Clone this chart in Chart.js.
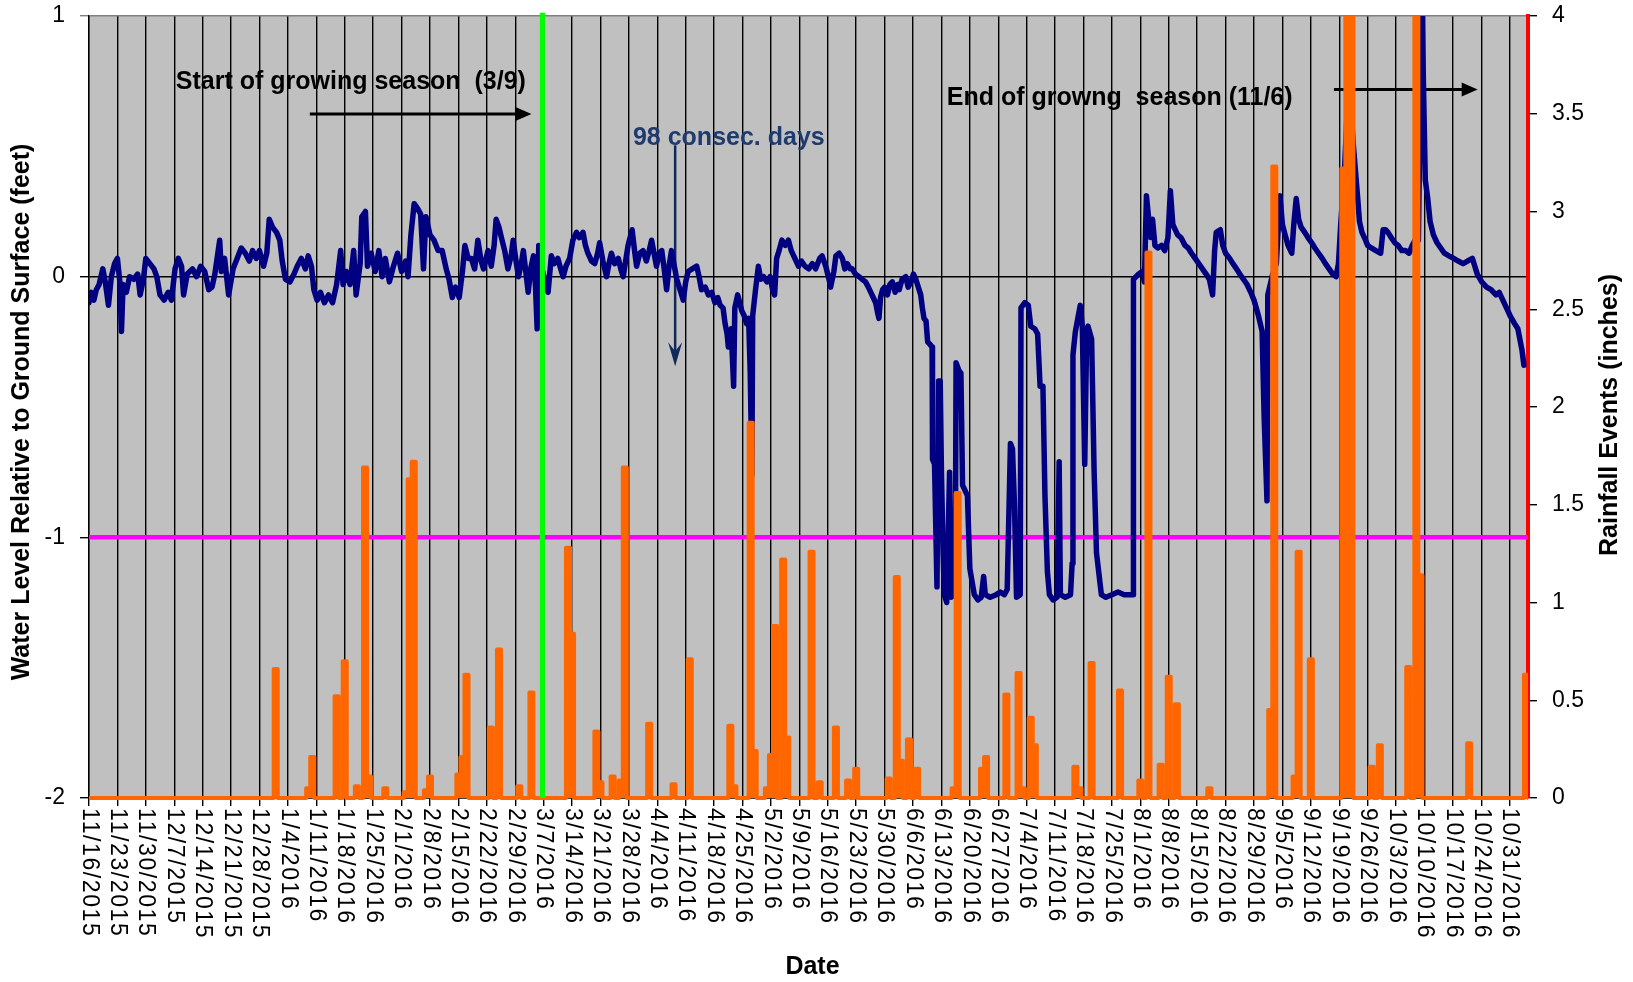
<!DOCTYPE html>
<html>
<head>
<meta charset="utf-8">
<title>Water level and rainfall</title>
<script src="https://cdn.jsdelivr.net/npm/chart.js@4.4.1/dist/chart.umd.min.js"></script>
<style>
  html, body { margin: 0; padding: 0; background: #fff; overflow: hidden; }
  #wrap { width: 1633px; height: 982px; }
</style>
</head>
<body>
<div id="wrap"><canvas id="levelChart" width="1633" height="982"></canvas></div>
<script>
// days counted from 11/16/2015
const weekLabels = [
    '11/16/2015', '11/23/2015', '11/30/2015', '12/7/2015', '12/14/2015', '12/21/2015', '12/28/2015',
    '1/4/2016', '1/11/2016', '1/18/2016', '1/25/2016', '2/1/2016', '2/8/2016', '2/15/2016', '2/22/2016',
    '2/29/2016', '3/7/2016', '3/14/2016', '3/21/2016', '3/28/2016', '4/4/2016', '4/11/2016', '4/18/2016',
    '4/25/2016', '5/2/2016', '5/9/2016', '5/16/2016', '5/23/2016', '5/30/2016', '6/6/2016', '6/13/2016',
    '6/20/2016', '6/27/2016', '7/4/2016', '7/11/2016', '7/18/2016', '7/25/2016', '8/1/2016', '8/8/2016',
    '8/15/2016', '8/22/2016', '8/29/2016', '9/5/2016', '9/12/2016', '9/19/2016', '9/26/2016', '10/3/2016',
    '10/10/2016', '10/17/2016', '10/24/2016', '10/31/2016'
];

// water level (feet relative to ground surface)
const levelDays = [
    0, 0.6, 1.2, 1.8, 2.5, 3.4, 4, 4.8, 5.5, 6.3,
    7, 7.6, 8, 8.4, 9.2, 10, 11, 12, 12.6, 13.4,
    14, 15, 16, 16.7, 17.5, 18.5, 19.5, 20.3, 21.2, 22,
    22.8, 23.3, 24.2, 25.5, 26.5, 27.5, 28.5, 29.5, 30.3, 31,
    32.2, 32.6, 33.4, 34.4, 35.5, 36.5, 37.5, 38.5, 39.5, 40.3,
    41.2, 42, 43, 43.8, 44.4, 45.2, 46.2, 47, 47.6, 48.4,
    49.5, 50.5, 51.3, 52.3, 53.3, 54, 54.8, 55.4, 56.2, 57,
    58, 59, 60, 61, 62, 62.6, 63.4, 64.3, 65.2, 65.8,
    66.8, 67.2, 68.1, 68.6, 69.5, 70.5, 71.4, 72.2, 73, 74,
    75, 76, 77, 78, 78.6, 79.3, 80.1, 81, 81.7, 82.4,
    83, 84, 85, 86, 87, 88, 88.7, 89.5, 90.3, 91.2,
    92, 92.6, 93.4, 94.2, 95, 95.8, 96.6, 97.2, 98.3, 99.1,
    99.8, 100.3, 101, 101.6, 102.4, 103.2, 104, 104.5, 105.2, 105.8,
    106.5, 107, 107.6, 108.2, 108.8, 109.5, 110, 110.4, 110.8, 111.6,
    112.4, 113.1, 113.9, 114.6, 115.5, 116.2, 116.8, 117.5, 118.4, 119.2,
    120.1, 120.8, 121.7, 122.3, 122.9, 123.8, 124.6, 125.3, 125.8, 126.6,
    127.5, 128.1, 128.7, 129.5, 130.4, 131, 131.6, 132.2, 132.8, 133.8,
    134.4, 134.9, 135.7, 136.5, 137.3, 138, 138.6, 139.2, 139.8, 140.5,
    141.1, 141.7, 142.3, 142.9, 143.5, 144.2, 144.8, 145.6, 146.4, 147,
    147.6, 148.6, 149.7, 150.3, 150.9, 151.8, 152.6, 153.4, 154.2, 154.9,
    155.5, 156.2, 156.7, 157.2, 157.5, 158.2, 158.8, 159.1, 159.8, 160.3,
    160.8, 161.4, 162, 162.5, 162.9, 163.3, 163.5, 164.2, 164.9, 165.5,
    166.2, 167, 167.8, 168.4, 168.9, 169.4, 170, 170.7, 171.5, 172.3,
    173, 173.6, 174.2, 174.8, 175.5, 176.4, 177.3, 178.2, 179, 180,
    180.6, 181.5, 182.3, 182.7, 183.5, 184, 184.8, 185.6, 186.2, 186.8,
    187.5, 188, 188.8, 189.7, 190.5, 191.3, 192, 192.6, 193.2, 193.8,
    194.3, 194.6, 195, 195.5, 196, 196.7, 197.3, 197.9, 198.6, 199.2,
    199.6, 200.3, 201.2, 201.8, 202.5, 203.1, 203.7, 204.3, 204.9, 205.3,
    205.7, 206.2, 206.6, 207.2, 207.7, 207.8, 208.3, 208.9, 209.3, 209.7,
    210, 210.4, 210.7, 211.3, 212, 212.4, 213.4, 213.6, 214.3, 214.8,
    215.2, 216.4, 217, 218.1, 219, 219.8, 220.4, 220.8, 222, 223.5,
    224.5, 225.5, 226.2, 227, 227.5, 228, 228.5, 229.4, 229.6, 230.5,
    231.4, 232, 233, 233.7, 234.3, 235, 235.5, 236.1, 236.6, 237.5,
    238.5, 239, 239.3, 240.5, 241.8, 242.2, 242.4, 243, 244.2, 244.7,
    245.3, 245.8, 246.1, 247, 247.6, 248.2, 249.4, 250.5, 252, 253.5,
    255, 256.5, 257.2, 257.3, 258.6, 259.5, 260, 260.5, 261.5, 262,
    262.6, 263.3, 264.2, 265, 265.8, 266.4, 267, 267.3, 268.2, 269,
    270, 270.8, 271.6, 272.5, 273.4, 274.3, 275.2, 276, 276.8, 277.3,
    277.7, 278.7, 279.3, 280, 281, 281.8, 282.7, 283.5, 284.4, 285.3,
    286.2, 287, 288.1, 289, 289.5, 290.2, 290.4, 291.6, 292.5, 293.4,
    294, 294.5, 295.4, 296.3, 296.8, 297.4, 298, 298.6, 299.5, 300.3,
    301.2, 302, 302.9, 303.8, 304.6, 305.5, 306.4, 307.2, 307.8, 308.4,
    309.3, 310.1, 310.6, 311.5, 312.5, 313, 313.6, 314.2, 315, 315.9,
    317, 318.2, 318.8, 319.4, 320, 320.8, 321.7, 322.5, 323.4, 324.3,
    325.2, 326, 326.7, 327.5, 328.3, 329.2, 329.8, 330.4, 331.2, 332.1,
    333, 333.9, 335, 336.2, 337.3, 338.5, 339.6, 340.8, 341.4, 342,
    343.1, 344.3, 345.4, 346.6, 347.4, 348.3, 349.2, 350.1, 351.2, 352,
    353, 353.5
];
const levelFeet = [
    -0.10, -0.06, -0.09, -0.05, -0.03, 0.03, -0.02, -0.11, 0.00, 0.05,
    0.07, -0.02, -0.21, -0.03, -0.06, 0.00, -0.01, 0.01, -0.07, -0.01,
    0.07, 0.05, 0.03, 0.00, -0.07, -0.09, -0.06, -0.09, 0.03, 0.07,
    0.04, -0.07, 0.01, 0.03, 0.00, 0.04, 0.02, -0.05, -0.04, 0.01,
    0.14, 0.02, 0.07, -0.07, 0.03, 0.07, 0.11, 0.09, 0.06, 0.10,
    0.07, 0.10, 0.04, 0.09, 0.22, 0.19, 0.17, 0.14, 0.06, -0.01,
    -0.02, 0.01, 0.04, 0.07, 0.03, 0.08, 0.04, -0.05, -0.09, -0.06,
    -0.10, -0.07, -0.10, -0.03, 0.10, -0.03, 0.02, -0.03, 0.10, -0.07,
    0.05, 0.23, 0.25, 0.04, 0.09, 0.02, 0.10, 0.00, 0.07, -0.02,
    0.04, 0.09, 0.02, 0.06, 0.00, 0.16, 0.28, 0.26, 0.24, 0.03,
    0.23, 0.16, 0.14, 0.10, 0.10, 0.03, -0.01, -0.08, -0.04, -0.08,
    0.02, 0.12, 0.07, 0.07, 0.03, 0.14, 0.06, 0.03, 0.10, 0.04,
    0.12, 0.22, 0.19, 0.15, 0.10, 0.03, 0.08, 0.14, 0.06, 0.00,
    0.05, 0.10, 0.02, -0.06, 0.03, 0.08, -0.04, -0.20, 0.12, 0.03,
    -0.02, -0.06, 0.08, 0.05, 0.07, 0.03, 0.00, 0.04, 0.07, 0.14,
    0.17, 0.15, 0.17, 0.12, 0.09, 0.06, 0.05, 0.09, 0.13, 0.06,
    0.00, 0.05, 0.09, 0.05, 0.07, 0.03, 0.00, 0.06, 0.12, 0.18,
    0.10, 0.04, 0.09, 0.10, 0.06, 0.10, 0.14, 0.09, 0.04, 0.09,
    0.10, 0.03, -0.05, 0.04, 0.10, 0.04, -0.01, -0.05, -0.09, -0.02,
    0.02, 0.03, 0.04, 0.00, -0.05, -0.04, -0.07, -0.06, -0.10, -0.08,
    -0.11, -0.12, -0.18, -0.22, -0.27, -0.20, -0.42, -0.12, -0.07, -0.10,
    -0.13, -0.15, -0.18, -0.16, -0.37, -0.76, -0.15, -0.05, 0.04, -0.01,
    0.00, -0.02, 0.00, -0.05, -0.07, 0.07, 0.10, 0.14, 0.12, 0.14,
    0.10, 0.08, 0.06, 0.04, 0.06, 0.04, 0.03, 0.05, 0.03, 0.07,
    0.08, 0.04, -0.01, -0.04, 0.02, 0.08, 0.09, 0.07, 0.03, 0.05,
    0.03, 0.03, 0.01, 0.00, -0.01, -0.02, -0.04, -0.06, -0.08, -0.10,
    -0.14, -0.16, -0.08, -0.05, -0.04, -0.07, -0.03, -0.02, -0.06, -0.03,
    -0.05, -0.01, 0.00, -0.04, -0.02, 0.01, -0.01, -0.04, -0.07, -0.12,
    -0.16, -0.17, -0.25, -0.26, -0.27, -0.70, -0.72, -1.19, -0.40, -0.40,
    -0.75, -1.05, -1.22, -1.25, -0.75, -1.23, -1.22, -0.33, -0.36, -0.37,
    -0.80, -0.84, -1.12, -1.22, -1.24, -1.23, -1.15, -1.22, -1.23, -1.22,
    -1.21, -1.22, -1.20, -0.64, -0.66, -0.88, -1.23, -1.22, -0.12, -0.10,
    -0.11, -0.19, -0.20, -0.22, -0.42, -0.42, -0.84, -1.13, -1.22, -1.24,
    -1.23, -0.71, -1.22, -1.23, -1.22, -1.10, -0.30, -0.21, -0.11, -0.19,
    -0.72, -0.20, -0.19, -0.24, -0.74, -1.06, -1.22, -1.23, -1.22, -1.21,
    -1.22, -1.22, -1.22, -0.01, 0.01, 0.02, -0.02, 0.31, 0.15, 0.22,
    0.12, 0.11, 0.12, 0.10, 0.15, 0.33, 0.20, 0.19, 0.16, 0.15,
    0.12, 0.11, 0.09, 0.07, 0.05, 0.03, 0.01, -0.01, -0.07, 0.10,
    0.17, 0.18, 0.12, 0.09, 0.07, 0.05, 0.03, 0.01, -0.01, -0.03,
    -0.06, -0.09, -0.15, -0.21, -0.54, -0.86, -0.07, 0.01, 0.05, 0.31,
    0.20, 0.17, 0.12, 0.09, 0.20, 0.30, 0.22, 0.19, 0.17, 0.15,
    0.13, 0.11, 0.09, 0.07, 0.05, 0.03, 0.01, 0.00, 0.05, 0.21,
    0.41, 0.69, 0.72, 0.50, 0.31, 0.21, 0.17, 0.15, 0.12, 0.11,
    0.10, 0.09, 0.18, 0.18, 0.17, 0.15, 0.13, 0.12, 0.10, 0.10,
    0.09, 0.12, 0.14, 0.14, 1.10, 0.37, 0.30, 0.21, 0.16, 0.13,
    0.11, 0.09, 0.08, 0.07, 0.06, 0.05, 0.06, 0.07, 0.04, 0.01,
    -0.02, -0.04, -0.05, -0.07, -0.06, -0.09, -0.12, -0.15, -0.18, -0.20,
    -0.28, -0.34
];

// daily rainfall events (inches)
const rainDays = [
    46, 54, 55, 61, 63, 66, 68, 69, 73, 78, 79, 80, 83, 84, 91, 92, 93, 99, 101, 106,
    109, 118, 119, 125, 126, 129, 131, 132, 138, 144, 148, 158, 159, 163, 164, 167, 168, 169, 171, 172,
    178, 180, 184, 187, 189, 197, 199, 200, 202, 204, 213, 214, 220, 221, 226, 229, 230, 232, 233, 243,
    244, 247, 254, 259, 261, 264, 266, 268, 276, 291, 292, 297, 298, 301, 309, 310, 311, 316, 318, 325,
    327, 328, 340, 354
];
const rainInches = [
    0.66, 0.05, 0.21, 0.52, 0.70, 0.06, 1.69, 0.11, 0.05, 0.03, 1.63, 1.72, 0.04, 0.11, 0.12, 0.21, 0.63, 0.36, 0.76, 0.06,
    0.54, 1.28, 0.84, 0.34, 0.08, 0.11, 0.09, 1.69, 0.38, 0.07, 0.71, 0.37, 0.06, 1.92, 0.24, 0.05, 0.22, 0.88, 1.22, 0.31,
    1.26, 0.08, 0.36, 0.09, 0.15, 0.10, 1.13, 0.19, 0.30, 0.15, 0.05, 1.56, 0.15, 0.21, 0.53, 0.64, 0.05, 0.41, 0.27, 0.16,
    0.05, 0.69, 0.55, 0.09, 2.79, 0.17, 0.62, 0.48, 0.05, 0.45, 3.23, 0.11, 1.26, 0.71, 3.22, 4.5, 4.5, 0.16, 0.27, 0.67,
    4.5, 1.14, 0.28, 0.63
];

const thresholdFeet = -1;
const seasonStartDay = 111.7;
const lastDay = 354.5;

const FONT = "'Liberation Sans', Arial, sans-serif";

const levelPoints = levelDays.map((d, i) => ({x: d, y: levelFeet[i]}));
const rainPoints = [];
for (let d = 0; d <= 355; d++) {
    const i = rainDays.indexOf(d);
    rainPoints.push({x: d, y: i >= 0 ? rainInches[i] : 0});
}

function arrowRight(ctx, x1, x2, y) {
    ctx.beginPath();
    ctx.moveTo(x1, y);
    ctx.lineTo(x2 - 12, y);
    ctx.stroke();
    ctx.beginPath();
    ctx.moveTo(x2, y);
    ctx.lineTo(x2 - 16, y - 7);
    ctx.lineTo(x2 - 16, y + 7);
    ctx.closePath();
    ctx.fill();
}

function arrowDown(ctx, x, y1, y2) {
    ctx.beginPath();
    ctx.moveTo(x, y1);
    ctx.lineTo(x, y2 - 12);
    ctx.stroke();
    ctx.beginPath();
    ctx.moveTo(x, y2);
    ctx.lineTo(x - 7, y2 - 24);
    ctx.lineTo(x, y2 - 15);
    ctx.lineTo(x + 7, y2 - 24);
    ctx.closePath();
    ctx.fill();
}

const chartDecor = {
    id: 'chartDecor',
    beforeDraw(chart) {
        const {ctx, chartArea: a} = chart;
        ctx.save();
        ctx.fillStyle = '#c0c0c0';
        ctx.fillRect(a.left, a.top, a.right - a.left, a.bottom - a.top);
        ctx.restore();
    },
    beforeDatasetsDraw(chart) {
        const {ctx, scales: {x, y}} = chart;
        ctx.save();
        ctx.font = 'bold 25px ' + FONT;
        ctx.textBaseline = 'alphabetic';
        ctx.fillStyle = '#000';
        ctx.fillText('Start of growing season  (3/9)', x.getPixelForValue(21.4), y.getPixelForValue(0.72));
        ctx.fillText('End of growng  season (11/6)', x.getPixelForValue(211.3), y.getPixelForValue(0.657));
        ctx.fillStyle = '#1f3a6e';
        ctx.fillText('98 consec. days', x.getPixelForValue(134), y.getPixelForValue(0.507));

        ctx.strokeStyle = '#000';
        ctx.fillStyle = '#000';
        ctx.lineWidth = 3;
        arrowRight(ctx, x.getPixelForValue(54.4), x.getPixelForValue(109), y.getPixelForValue(0.624));
        arrowRight(ctx, x.getPixelForValue(306.7), x.getPixelForValue(342.1), y.getPixelForValue(0.718));

        ctx.strokeStyle = '#10285a';
        ctx.fillStyle = '#10285a';
        ctx.lineWidth = 2.5;
        arrowDown(ctx, x.getPixelForValue(144.4), y.getPixelForValue(0.504), y.getPixelForValue(-0.344));
        ctx.restore();
    },
    afterDraw(chart) {
        const {ctx, chartArea: a, scales: {x}} = chart;
        ctx.save();
        ctx.fillStyle = '#000';

        // date labels, rotated to read downwards
        ctx.font = '23px ' + FONT;
        ctx.letterSpacing = '1.6px';
        ctx.textAlign = 'left';
        ctx.textBaseline = 'middle';
        weekLabels.forEach((label, i) => {
            ctx.save();
            ctx.translate(x.getPixelForValue(i * 7), a.bottom + 10);
            ctx.rotate(Math.PI / 2);
            ctx.fillText(label, 0, 0);
            ctx.restore();
        });

        ctx.letterSpacing = '0px';
        ctx.font = 'bold 25px ' + FONT;
        ctx.textAlign = 'center';
        ctx.fillText('Date', (a.left + a.right) / 2 + 4, 967);

        ctx.save();
        ctx.translate(22, 412);
        ctx.rotate(-Math.PI / 2);
        ctx.fillText('Water Level Relative to Ground Surface (feet)', 0, 0);
        ctx.restore();

        ctx.save();
        ctx.translate(1610, 415);
        ctx.rotate(-Math.PI / 2);
        ctx.fillText('Rainfall Events (inches)', 0, 0);
        ctx.restore();

        ctx.restore();
    }
};

const tickFont = {family: FONT, size: 23};
const noEdgePadding = (scale) => {
    scale.paddingTop = 0;
    scale.paddingBottom = 0;
};

new Chart(document.getElementById('levelChart'), {
    type: 'line',
    data: {
        datasets: [
            {
                label: 'Start of growing season',
                data: [{x: seasonStartDay, y: -2}, {x: seasonStartDay, y: 1.012}],
                borderColor: '#00ff00',
                borderWidth: 5,
                clip: {left: 4, top: 4, right: 4, bottom: 2}
            },
            {
                label: 'Rainfall',
                data: rainPoints,
                yAxisID: 'y1',
                borderColor: '#ff6600',
                backgroundColor: '#ff6600',
                fill: 'origin',
                borderWidth: 4,
                stepped: 'middle',
                borderJoinStyle: 'round',
                borderCapStyle: 'round',
                clip: {left: 0, top: 0, right: 0, bottom: 4}
            },
            {
                label: 'Water level',
                data: levelPoints,
                borderColor: '#000080',
                borderWidth: 5.5,
                borderJoinStyle: 'round',
                borderCapStyle: 'round'
            },
            {
                label: 'Threshold',
                data: [{x: 0, y: thresholdFeet}, {x: lastDay, y: thresholdFeet}],
                borderColor: '#ff00ff',
                borderWidth: 4.5
            }
        ]
    },
    options: {
        responsive: false,
        animation: false,
        parsing: false,
        layout: {padding: {top: 16}},
        elements: {point: {radius: 0}, line: {tension: 0}},
        plugins: {
            legend: {display: false},
            tooltip: {enabled: false}
        },
        scales: {
            x: {
                type: 'linear',
                min: 0,
                max: lastDay,
                afterBuildTicks: (scale) => {
                    scale.ticks = weekLabels.map((l, i) => ({value: i * 7}));
                },
                afterFit: (scale) => { scale.height = 184; },
                ticks: {display: false},
                grid: {color: '#000', lineWidth: 1.4, tickLength: 8},
                border: {color: '#000', width: 1.4}
            },
            y: {
                min: -2,
                max: 1,
                afterFit: (scale) => { scale.width = 89; noEdgePadding(scale); },
                ticks: {stepSize: 1, font: tickFont, color: '#000', padding: 15},
                grid: {
                    color: (ctx) => (ctx.tick && ctx.tick.value === 1 ? '#808080' : '#000'),
                    lineWidth: 1.4,
                    tickLength: 9
                },
                border: {color: '#000', width: 1.4}
            },
            y1: {
                position: 'right',
                min: 0,
                max: 4,
                afterFit: (scale) => { scale.width = 105; noEdgePadding(scale); },
                ticks: {
                    stepSize: 0.5,
                    font: tickFont,
                    color: '#000',
                    padding: 15,
                    callback: (value) => String(value)
                },
                grid: {drawOnChartArea: false, color: '#000', lineWidth: 1.4, tickLength: 9},
                border: {color: '#ff0000', width: 4}
            }
        }
    },
    plugins: [chartDecor]
});
</script>
</body>
</html>
